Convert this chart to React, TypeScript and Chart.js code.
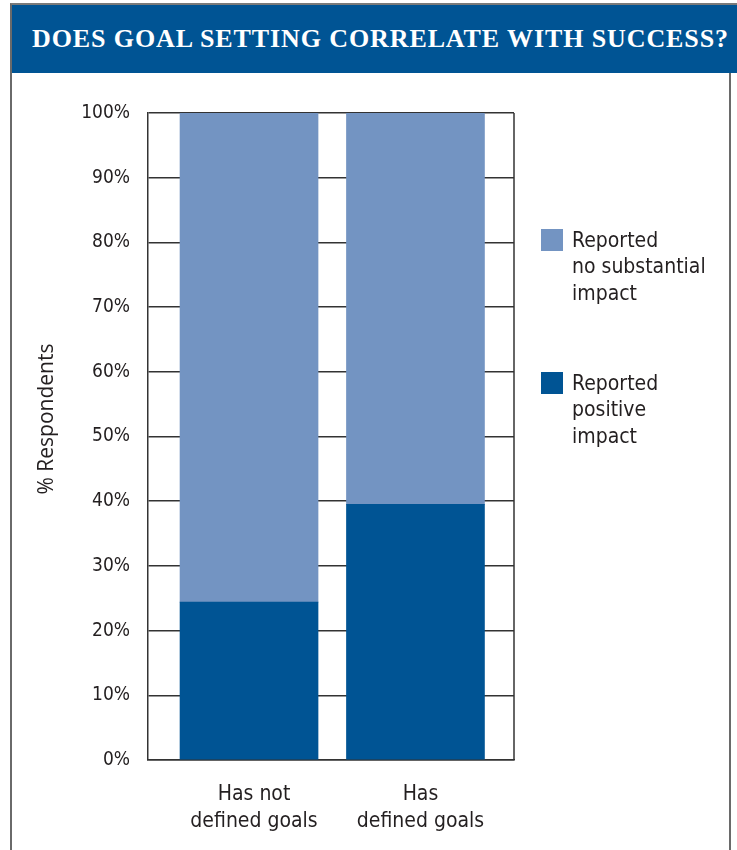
import React, { useEffect, useRef } from "react";
import { Chart, registerables } from "chart.js";

Chart.register(...registerables);

// Survey groups along the x axis (each label split over two lines)
const categories: string[][] = [
  ["Has not", "defined goals"],
  ["Has", "defined goals"],
];

// Share of respondents (%) per group
const positiveImpact: number[] = [24.4, 39.5];
const noSubstantialImpact: number[] = [75.6, 60.5];

// Legend / series names, one entry per line
const positiveLabel: string[] = ["Reported", "positive", "impact"];
const noImpactLabel: string[] = ["Reported", "no substantial", "impact"];

const DARK_BLUE = "#005494";
const LIGHT_BLUE = "#7394c2";
const GRID = "#333333";
const TEXT = "#231f20";
const SANS = "'DejaVu Sans Condensed', 'DejaVu Sans', sans-serif";

const TITLE = "DOES GOAL SETTING CORRELATE WITH SUCCESS?";
const Y_TITLE = "% Respondents";

// Right edge of the plot box and the rotated y-axis title
const plotFrame = {
  id: "plotFrame",
  afterDatasetsDraw(chart: any) {
    const { ctx, chartArea } = chart;
    ctx.save();
    ctx.strokeStyle = GRID;
    ctx.lineWidth = 1.5;
    ctx.beginPath();
    ctx.moveTo(chartArea.right, chartArea.top);
    ctx.lineTo(chartArea.right, chartArea.bottom);
    ctx.stroke();

    ctx.translate(47, 419);
    ctx.rotate(-Math.PI / 2);
    ctx.fillStyle = TEXT;
    ctx.font = "21px 'Open Sans', sans-serif";
    ctx.textAlign = "center";
    ctx.textBaseline = "middle";
    ctx.fillText(Y_TITLE, 0, 0);
    ctx.restore();
  },
};

function GoalChart() {
  const canvasRef = useRef<HTMLCanvasElement | null>(null);

  useEffect(() => {
    if (!canvasRef.current) return;
    const chart = new Chart(canvasRef.current, {
      type: "bar",
      data: {
        datasets: [
          {
            label: positiveLabel.join(" "),
            data: positiveImpact.map((v, i) => ({ x: i, y: v })),
            backgroundColor: DARK_BLUE,
            borderWidth: 0,
            barThickness: 138,
          },
          {
            label: noImpactLabel.join(" "),
            data: noSubstantialImpact.map((v, i) => ({ x: i, y: v })),
            backgroundColor: LIGHT_BLUE,
            borderWidth: 0,
            barThickness: 138,
          },
        ],
      },
      options: {
        animation: false,
        responsive: true,
        maintainAspectRatio: false,
        layout: { padding: { left: 0, top: 113, right: 223, bottom: 0 } },
        plugins: {
          legend: { display: false },
          tooltip: { enabled: false },
          title: { display: false },
        },
        scales: {
          x: {
            type: "linear",
            stacked: true,
            offset: false,
            min: -0.607,
            max: 1.592,
            afterBuildTicks(scale: any) {
              scale.ticks = categories.map((_, i) => ({ value: i }));
            },
            afterFit(scale: any) {
              scale.height = 90;
            },
            grid: { display: false, drawTicks: false, offset: false },
            border: { display: true, color: GRID, width: 1.5 },
            ticks: {
              autoSkip: false,
              maxRotation: 0,
              padding: 21,
              labelOffset: 5,
              color: TEXT,
              font: { family: SANS, size: 21, lineHeight: 1.286 },
              callback: (value: any) => categories[Math.round(Number(value))] ?? "",
            },
          },
          y: {
            stacked: true,
            min: 0,
            max: 100,
            afterFit(scale: any) {
              scale.width = 148;
            },
            grid: { color: GRID, lineWidth: 1.5, drawTicks: false },
            border: { display: true, color: GRID, width: 1.5 },
            ticks: {
              stepSize: 10,
              padding: 18,
              color: TEXT,
              font: { family: SANS, size: 19 },
              callback: (value: any) => `${value}%`,
            },
          },
        },
      },
      plugins: [plotFrame],
    });
    return () => chart.destroy();
  }, []);

  return (
    <div style={{ position: "absolute", left: 0, top: 0, width: 737, height: 850 }}>
      <canvas ref={canvasRef} />
    </div>
  );
}

function Legend() {
  const items = [
    { lines: noImpactLabel, color: LIGHT_BLUE, top: 226.5 },
    { lines: positiveLabel, color: DARK_BLUE, top: 369.5 },
  ];
  return (
    <>
      {items.map((item, i) => (
        <div key={i}>
          <div
            style={{
              position: "absolute",
              left: 541,
              top: item.top + 2.5,
              width: 22,
              height: 22,
              background: item.color,
            }}
          />
          <div
            style={{
              position: "absolute",
              left: 572,
              top: item.top,
              font: `21px ${SANS}`,
              lineHeight: "26.5px",
              color: TEXT,
              whiteSpace: "nowrap",
            }}
          >
            {item.lines.map((l, j) => (
              <div key={j}>{l}</div>
            ))}
          </div>
        </div>
      ))}
    </>
  );
}

export default function App() {
  return (
    <div
      style={{
        position: "fixed",
        left: 0,
        top: 0,
        width: 737,
        height: 850,
        background: "#ffffff",
        overflow: "hidden",
      }}
    >
      {/* outer frame */}
      <div
        style={{
          position: "absolute",
          left: 10,
          top: 3,
          width: 740,
          height: 860,
          borderTop: "2px solid #7a7a7a",
          borderLeft: "2px solid #6a6a6a",
        }}
      />
      <div
        style={{
          position: "absolute",
          left: 729,
          top: 72,
          width: 2,
          height: 790,
          background: "#6a6a6a",
        }}
      />
      {/* title band */}
      <div
        style={{
          position: "absolute",
          left: 12,
          top: 5,
          width: 725,
          height: 68,
          background: DARK_BLUE,
        }}
      />
      <div
        style={{
          position: "absolute",
          left: 32,
          top: 5,
          height: 68,
          font: "bold 26px 'Liberation Serif', 'Times New Roman', serif",
          lineHeight: "68px",
          letterSpacing: "0.9px",
          color: "#ffffff",
          whiteSpace: "nowrap",
        }}
      >
        {TITLE}
      </div>
      <GoalChart />
      <Legend />
    </div>
  );
}
